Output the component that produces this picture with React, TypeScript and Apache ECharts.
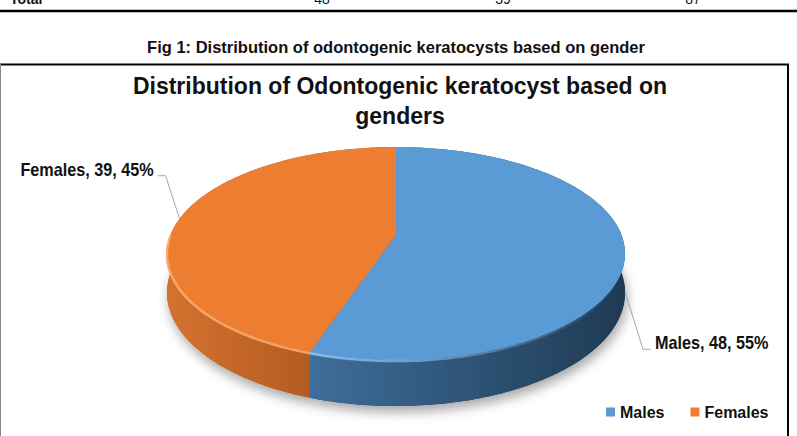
import React, { useEffect, useRef } from 'react';
import * as echarts from 'echarts';

// ---- data ----
const categories = ['Males', 'Females'];
const counts = [48, 39];
const tableRow = ['Total', '48', '39', '87'];
const captionText = 'Fig 1: Distribution of odontogenic keratocysts based on gender';
const titleText = 'Distribution of Odontogenic keratocyst based on\ngenders';

// ---- styles ----
const topColors = ['#5B9BD5', '#ED7D31'];
const sideColors = [
  ['#3E6E9B', '#1F3A53'],
  ['#D4732F', '#B45A23'],
];
const rimColors = [
  ['rgba(140,192,240,0.95)', 'rgba(140,192,240,0)'],
  ['rgba(250,168,105,0.95)', 'rgba(250,168,105,0.9)'],
];
const FONT = '"Liberation Sans Narrow", "Arial Narrow", "Liberation Sans", Arial, sans-serif';

// ---- 3D pie geometry (layout) ----
const GEO = { cx: 396, cy: 235, a: 225.5, b: 103.3, p: 0.174, depth: 38 };
const LABEL_LAYOUT = [
  { dx: 18, dy: 58 },
  { dx: -14, dy: -43 },
];

function proj(theta: number, drop: number): number[] {
  const t = (theta * Math.PI) / 180;
  const u = Math.sin(t);
  const v = -Math.cos(t);
  const s = 1 / (1 - GEO.p * v);
  return [GEO.cx + GEO.a * u * s, GEO.cy + GEO.b * v * s + drop * GEO.depth * s];
}

function arc(from: number, to: number, drop: number): number[][] {
  const n = Math.max(2, Math.ceil(Math.abs(to - from)));
  const out: number[][] = [];
  for (let i = 0; i <= n; i++) out.push(proj(from + ((to - from) * i) / n, drop));
  return out;
}

function makeRenderItem(si: number) {
  return (params: any, api: any) => {
    const value = api.value(0);
    const start = api.value(1);
    const total = api.value(2);
    const a0 = (start / total) * 360;
    const a1 = ((start + value) / total) * 360;
    const topArc = arc(a0, a1, 0);
    const botArc = arc(a0, a1, 1);
    const centerTop = [GEO.cx, GEO.cy];
    const centerBot = [GEO.cx, GEO.cy + GEO.depth];

    const fFrom = Math.max(a0, 90);
    const fTo = Math.min(a1, 270);
    const front = fTo > fFrom ? arc(fFrom, fTo, 0) : topArc;
    const xs = front.map((q) => q[0]);
    const gx0 = Math.min(...xs);
    const gx1 = Math.max(...xs);

    const children: any[] = [];
    children.push({
      type: 'polygon',
      z2: 1,
      shape: { points: [centerBot, ...botArc] },
      style: {
        fill: sideColors[si][1],
        shadowBlur: 12,
        shadowColor: 'rgba(0,0,0,0.35)',
        shadowOffsetY: 6,
        shadowOffsetX: 2,
      },
    });
    children.push({
      type: 'polygon',
      z2: 2,
      shape: { points: [...topArc, ...botArc.slice().reverse()] },
      style: {
        fill: {
          type: 'linear',
          x: gx0, y: 0, x2: gx1, y2: 0,
          global: true,
          colorStops: [
            { offset: 0, color: sideColors[si][0] },
            { offset: 1, color: sideColors[si][1] },
          ],
        },
      },
    });
    children.push({
      type: 'polygon',
      z2: 3,
      shape: { points: [centerTop, ...topArc] },
      style: { fill: topColors[si] },
    });
    if (fTo > fFrom) {
      children.push({
        type: 'polyline',
        z2: 4,
        shape: { points: arc(fFrom, fTo, 0).map((q) => [q[0], q[1] + 1]) },
        style: {
          fill: null,
          lineWidth: 2.5,
          stroke: {
            type: 'linear',
            x: gx0, y: 0, x2: gx1, y2: 0,
            global: true,
            colorStops: [
              { offset: 0, color: rimColors[si][0] },
              { offset: 1, color: rimColors[si][1] },
            ],
          },
        },
      });
    }

    const mid = (a0 + a1) / 2;
    const tv = -Math.cos((mid * Math.PI) / 180);
    const anchor = proj(mid, tv > 0 ? 1 : 0);
    const lay = LABEL_LAYOUT[si];
    const elbow = [anchor[0] + lay.dx, anchor[1] + lay.dy];
    const dir = lay.dx > 0 ? 1 : -1;
    const end = [elbow[0] + dir * 8, elbow[1]];
    const pct = Math.round((value / total) * 100);
    children.push({
      type: 'polyline',
      z2: 5,
      shape: { points: [anchor, elbow, end] },
      style: { fill: null, stroke: '#A6A6A6', lineWidth: 1 },
    });
    children.push({
      type: 'text',
      z2: 5,
      x: end[0] + dir * 4,
      y: end[1] - 6,
      scaleX: 0.9,
      style: {
        text: `${categories[si]}, ${value}, ${pct}%`,
        fill: '#111',
        fontSize: 18,
        fontWeight: 'bold',
        fontFamily: FONT,
        align: dir > 0 ? 'left' : 'right',
        verticalAlign: 'middle',
      },
    });
    return { type: 'group', children };
  };
}

export default function App() {
  const ref = useRef<HTMLDivElement>(null);
  useEffect(() => {
    document.body.style.margin = '0';
    const chart = echarts.init(ref.current!, null, { renderer: 'svg' });
    const total = counts.reduce((s, c) => s + c, 0);
    const starts = counts.map((_, i) => counts.slice(0, i).reduce((s, c) => s + c, 0));
    const colX = [10, 322, 503, 693];

    chart.setOption({
      animation: false,
      backgroundColor: '#fff',
      title: {
        text: titleText,
        left: 395,
        top: 66,
        textAlign: 'center',
        textStyle: {
          fontSize: 23,
          fontWeight: 'bold',
          fontFamily: FONT,
          color: '#111',
          lineHeight: 30,
        },
      },
      legend: {
        data: categories.map((c) => ({ name: c, icon: 'rect' })),
        left: 601,
        top: 399,
        itemWidth: 9,
        itemHeight: 9,
        itemGap: 26,
        textStyle: { fontSize: 16, fontWeight: 'bold', fontFamily: FONT, color: '#111' },
      },
      graphic: [
        ...tableRow.map((t, i) => ({
          type: 'text',
          x: colX[i],
          y: -1,
          style: {
            text: t,
            fontSize: 14,
            fontWeight: i === 0 ? 'bold' : 'normal',
            fontFamily: FONT,
            fill: '#111',
            align: i === 0 ? 'left' : 'center',
            verticalAlign: 'middle',
          },
        })),
        { type: 'line', shape: { x1: 0, y1: 11, x2: 797, y2: 11 }, style: { stroke: '#000', lineWidth: 2.5 } },
        {
          type: 'text',
          x: 396,
          y: 47,
          style: {
            text: captionText,
            fontSize: 16.5,
            fontWeight: 'bold',
            fontFamily: FONT,
            fill: '#111',
            align: 'center',
            verticalAlign: 'middle',
          },
        },
        { type: 'line', shape: { x1: 0, y1: 64.5, x2: 789, y2: 64.5 }, style: { stroke: '#000', lineWidth: 2 } },
        { type: 'line', shape: { x1: 788, y1: 64, x2: 788, y2: 436 }, style: { stroke: '#000', lineWidth: 2 } },
        { type: 'line', shape: { x1: 0.5, y1: 64, x2: 0.5, y2: 436 }, style: { stroke: '#888', lineWidth: 1 } },
      ],
      series: categories.map((name, i) => ({
        type: 'custom',
        name,
        coordinateSystem: 'none',
        itemStyle: { color: topColors[i] },
        renderItem: makeRenderItem(i),
        data: [[counts[i], starts[i], total]],
      })),
    });
    return () => chart.dispose();
  }, []);
  return <div ref={ref} style={{ width: 797, height: 436 }} />;
}
